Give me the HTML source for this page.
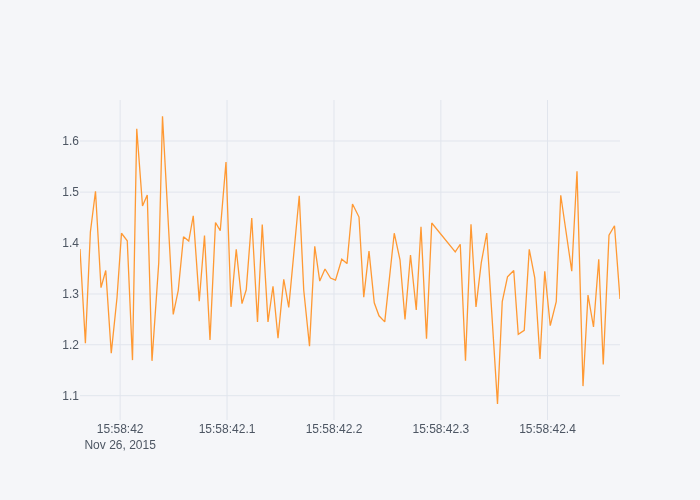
<!DOCTYPE html>
<html><head><meta charset="utf-8"><title>chart</title>
<style>
html,body{margin:0;padding:0;background:#f5f6f9;}
body{width:700px;height:500px;overflow:hidden;}
svg{display:block;will-change:transform;}
text{font-family:"Liberation Sans",sans-serif;font-size:12px;fill:#4d5663;}
</style></head><body>
<svg width="700" height="500" viewBox="0 0 700 500">
<rect x="0" y="0" width="700" height="500" fill="#f5f6f9"/>
<g stroke="#e1e5ed" stroke-width="1" fill="none">
<path d="M120.15,100V420"/>
<path d="M227.05,100V420"/>
<path d="M334.0,100V420"/>
<path d="M440.85,100V420"/>
<path d="M547.5,100V420"/>
<path d="M80,141.0H620"/>
<path d="M80,192.1H620"/>
<path d="M80,243.0H620"/>
<path d="M80,294.0H620"/>
<path d="M80,344.75H620"/>
<path d="M80,395.7H620"/>
</g>
<clipPath id="plotclip"><rect x="80" y="100" width="540" height="320"/></clipPath>
<path clip-path="url(#plotclip)" d="M80,249.05L85.4,343.1L90.4,231.8L95.5,191.25L101,287.6L105.75,270.5L111.25,353.1L117,297.8L121.5,233.25L127.25,240.8L132.5,360.1L136.75,128.75L142.5,205.9L147.25,195L152,360.85L158.75,262.8L162.5,116.25L173.25,314.35L178.25,290.3L183.5,236.75L188.75,241.1L193.25,215.75L199.25,301.1L204.5,235.5L210,339.85L215.5,222.5L220.25,230.6L226,162L231,306.85L236.25,249.25L242,303.6L246.25,289.8L251.75,218L257.5,321.85L262.25,224.5L268,321.85L273,286.25L278,338.1L283.75,279.25L288.75,307.35L299.25,195.75L303.75,290.3L309.5,346.1L314.75,246.25L319.75,281.1L325,269L330.5,278.05L335.5,280.1L341.75,259.25L347,263.6L352.5,204L359,217.05L363.75,297.1L369,251L374.25,302.8L379,315.8L384.75,321.85L394.25,233.25L400,259.8L405,319.35L410.5,255L416.25,309.85L421,226.75L426.5,338.6L431.75,223L455.25,251.85L460.25,244.25L465.5,360.6L471,224.25L476,306.85L481.25,262.8L486.75,233L497.5,403.85L502.25,301.55L507.5,276.8L513.75,270.5L518.25,334.35L524.25,330.3L529.25,249.25L534.75,277.8L540,358.85L544.75,271.25L550.25,325.6L556.25,301.55L560.75,195.25L571.75,271.1L577,171.25L583,386.1L588,295L593.5,326.85L598.75,259.25L603.25,364.35L609,235.3L614.5,225.75L620,299.05" fill="none" stroke="#ff9933" stroke-width="1.3" stroke-linejoin="miter" stroke-miterlimit="2"/>
<text x="120.15" y="432.6" text-anchor="middle">15:58:42</text>
<text x="227.05" y="432.6" text-anchor="middle">15:58:42.1</text>
<text x="334.0" y="432.6" text-anchor="middle">15:58:42.2</text>
<text x="440.85" y="432.6" text-anchor="middle">15:58:42.3</text>
<text x="547.5" y="432.6" text-anchor="middle">15:58:42.4</text>
<text x="120.15" y="448.6" text-anchor="middle">Nov 26, 2015</text>
<text x="79" y="145.30" text-anchor="end">1.6</text>
<text x="79" y="196.40" text-anchor="end">1.5</text>
<text x="79" y="247.30" text-anchor="end">1.4</text>
<text x="79" y="298.30" text-anchor="end">1.3</text>
<text x="79" y="349.05" text-anchor="end">1.2</text>
<text x="79" y="400.00" text-anchor="end">1.1</text>
</svg></body></html>
